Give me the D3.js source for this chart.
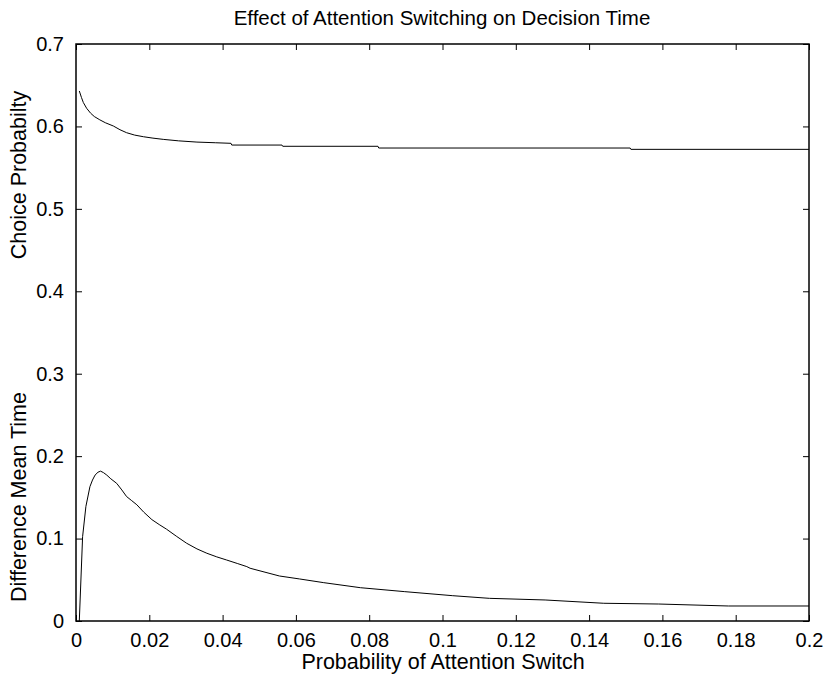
<!DOCTYPE html>
<html><head><meta charset="utf-8">
<script src="https://cdn.jsdelivr.net/npm/d3@7"></script>
<style>body{margin:0;background:#fff}svg text{font-family:"Liberation Sans",Arial,sans-serif;fill:#000}</style>
</head><body><svg id="c" width="828" height="681"></svg>
<script>
const xTicks=[0,0.02,0.04,0.06,0.08,0.1,0.12,0.14,0.16,0.18,0.2];
const yTicks=[0,0.1,0.2,0.3,0.4,0.5,0.6,0.7];
const choiceX=[0.0009,0.0015,0.002,0.0029,0.004,0.005,0.0065,0.008,0.0102,0.012,0.0138,0.016,0.0184,0.021,0.0238,0.028,0.033,0.038,0.0423,0.0425,0.0562,0.0564,0.0824,0.0826,0.1512,0.1514,0.2];
const choiceY=[0.643,0.635,0.629,0.622,0.616,0.612,0.608,0.6045,0.6005,0.596,0.5924,0.5895,0.5875,0.5858,0.5843,0.5825,0.581,0.5802,0.5795,0.5774,0.5774,0.5759,0.5759,0.5738,0.5738,0.5722,0.5722];
const diffX=[0.0009,0.0018,0.0027,0.0038,0.0045,0.0052,0.006,0.0067,0.0075,0.0084,0.0095,0.0111,0.0125,0.0138,0.0152,0.0166,0.0185,0.0207,0.0227,0.0247,0.0275,0.0302,0.033,0.0357,0.0384,0.0411,0.044,0.0466,0.0475,0.0555,0.061,0.0676,0.0776,0.0897,0.1028,0.1128,0.128,0.144,0.159,0.178,0.2];
const diffY=[0,0.1023,0.139,0.163,0.171,0.177,0.1805,0.1818,0.180,0.177,0.1725,0.167,0.159,0.151,0.146,0.141,0.132,0.123,0.117,0.1114,0.1025,0.0943,0.0875,0.0822,0.0778,0.074,0.0698,0.066,0.064,0.0546,0.051,0.0465,0.0404,0.0356,0.0307,0.0275,0.0255,0.0215,0.0206,0.0182,0.0182];

const svg=d3.select("#c");
const L=76,R=809,T=44,B=621;
const x=d3.scaleLinear().domain([0,0.2]).range([L,R]);
const y=d3.scaleLinear().domain([0,0.7]).range([B,T]);
const fmt=d=>d===0?"0":String(+d.toFixed(2));

svg.append("g").attr("transform",`translate(0,${B})`).call(d3.axisBottom(x).tickValues(xTicks).tickFormat(fmt).tickSizeInner(-6).tickSizeOuter(0).tickPadding(12))
 .call(g=>{g.select(".domain").remove();g.selectAll("text").attr("font-size",20);});
svg.append("g").attr("transform",`translate(0,${T})`).call(d3.axisTop(x).tickValues(xTicks).tickFormat("").tickSizeInner(-6).tickSizeOuter(0))
 .call(g=>g.select(".domain").remove());
svg.append("g").attr("transform",`translate(${L},0)`).call(d3.axisLeft(y).tickValues(yTicks).tickFormat(fmt).tickSizeInner(-6).tickSizeOuter(0).tickPadding(12))
 .call(g=>{g.select(".domain").remove();g.selectAll("text").attr("font-size",20);});
svg.append("g").attr("transform",`translate(${R},0)`).call(d3.axisRight(y).tickValues(yTicks).tickFormat("").tickSizeInner(-6).tickSizeOuter(0))
 .call(g=>g.select(".domain").remove());
svg.append("rect").attr("x",L).attr("y",T).attr("width",R-L).attr("height",B-T).attr("fill","none").attr("stroke","#000").attr("stroke-width",1.5);

const line=d3.line().x(d=>x(d[0])).y(d=>y(d[1]));
svg.append("path").datum(d3.zip(choiceX,choiceY)).attr("d",line).attr("fill","none").attr("stroke","#000").attr("stroke-width",1);
svg.append("path").datum(d3.zip(diffX,diffY)).attr("d",line).attr("fill","none").attr("stroke","#000").attr("stroke-width",1);

svg.append("text").attr("x",442).attr("y",25).attr("text-anchor","middle").attr("font-size",20.5).text("Effect of Attention Switching on Decision Time");
svg.append("text").attr("x",443).attr("y",669).attr("text-anchor","middle").attr("font-size",21.5).text("Probability of Attention Switch");
svg.append("text").attr("transform","translate(26,175) rotate(-90)").attr("text-anchor","middle").attr("font-size",21.5).text("Choice Probabilty");
svg.append("text").attr("transform","translate(26,497) rotate(-90)").attr("text-anchor","middle").attr("font-size",21.5).text("Difference Mean Time");
</script></body></html>
